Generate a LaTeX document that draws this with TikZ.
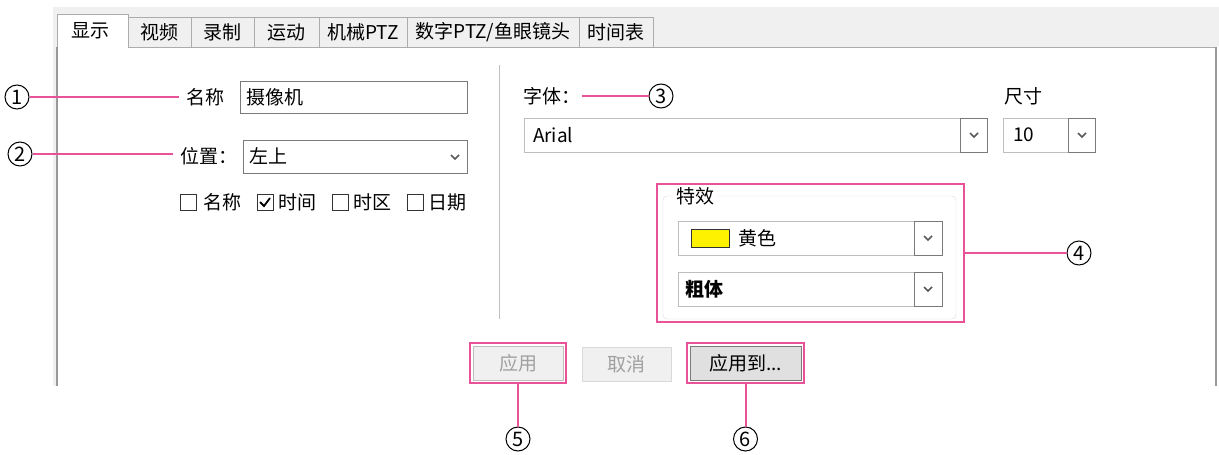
\documentclass[tikz,border=0pt]{standalone}
\usepackage{fontspec}
\setmainfont{Noto Sans CJK SC}
\definecolor{callout}{RGB}{233,82,152}
\definecolor{band}{RGB}{240,240,240}
\definecolor{tabline}{RGB}{172,172,172}
\definecolor{boxline}{RGB}{122,122,122}
\definecolor{softline}{RGB}{190,190,190}
\definecolor{greytext}{RGB}{160,160,160}
\newcommand{\chev}[1]{\draw[line width=1.6pt, color=black!65] ([shift={(-4,-2)}]#1) -- ([shift={(0,2)}]#1) -- ([shift={(4,-2)}]#1);}

\begin{document}
\begin{tikzpicture}[x=1pt,y=-1pt]
  \tikzstyle{lbl}=[font=\fontsize{19}{21}\selectfont, inner sep=0pt]
  \tikzstyle{tab}=[draw=tabline, fill=band, minimum height=30, inner sep=0pt, font=\fontsize{19}{21}\selectfont]
  \tikzstyle{field}=[draw=boxline, fill=white, inner sep=0pt]
  \tikzstyle{combo}=[draw=softline, fill=white, minimum height=34, inner sep=0pt]
  \tikzstyle{dropbtn}=[draw=boxline, fill=white, minimum height=34, minimum width=27, inner sep=0pt]
  \tikzstyle{chk}=[draw=black!80, minimum size=16, inner sep=0pt]
  \tikzstyle{btn}=[draw=softline, fill=band, minimum height=34, inner sep=0pt, font=\fontsize{19}{21}\selectfont]
  \tikzstyle{hilite}=[draw=callout, line width=2.5pt, inner sep=0pt]
  \tikzstyle{callline}=[callout, line width=2pt]
  \tikzstyle{num}=[circle, draw, line width=1pt, minimum size=24, inner sep=0pt, font=\fontsize{20}{21}\selectfont]
  \useasboundingbox (0,0) rectangle (1219,455);

  % tab bar
  \fill[band] (53,7) rectangle (1219,47);
  \fill[band] (53,47) rectangle (57,386);
  \fill[white] (57,47) rectangle (1216,386);
  \node[tab, minimum width=63] (T2) at (159.5,32) {视频};
  \node[tab, minimum width=63] (T3) at (222.5,32) {录制};
  \node[tab, minimum width=65] (T4) at (286.5,32) {运动};
  \node[tab, minimum width=88] (T5) at (363,32) {机械PTZ};
  \node[tab, minimum width=172] (T6) at (493,32) {数字PTZ/鱼眼镜头};
  \node[tab, minimum width=74] (T7) at (616,32) {时间表};
  \draw[tabline, fill=white] (57,47) -- (57,14) -- (128,14) -- (128,47);
  \node[lbl] (T1) at (90,31) {显示};
  \draw[color=black!40, line width=1.2pt] (57,386) -- (57,47);
  \draw[tabline] (128,47) -- (1216,47);
  \draw[color=black!40, line width=1.2pt] (1216,47) -- (1216,386);
  \draw[color=black!25] (499,65) -- (499,319);

  % left part
  \node[field, minimum width=227, minimum height=32] (NameBox) at (353.5,97) {};
  \node[lbl, anchor=west] (NameVal) at ([xshift=6]NameBox.west) {摄像机};
  \node[lbl, anchor=east] (NameLbl) at ([xshift=-15]NameBox.west) {名称};
  \node[field, minimum width=224, minimum height=33] (PosBox) at (355,156.5) {};
  \node[lbl, anchor=west] (PosVal) at ([xshift=6]PosBox.west) {左上};
  \chev{455,157}
  \node[lbl, anchor=west] (PosLbl) at (180,156) {位置：};
  \node[chk] (K1) at (188,202) {};
  \node[lbl, anchor=west] (L1) at ([xshift=7]K1.east) {名称};
  \node[chk] (K2) at (265,202) {};
  \draw[line width=1.8pt] ([shift={(-5,0)}]K2.center) -- ([shift={(-1,4)}]K2.center) -- ([shift={(5,-4)}]K2.center);
  \node[lbl, anchor=west] (L2) at ([xshift=5]K2.east) {时间};
  \node[chk] (K3) at (340,202) {};
  \node[lbl, anchor=west] (L3) at ([xshift=5]K3.east) {时区};
  \node[chk] (K4) at (415,202) {};
  \node[lbl, anchor=west] (L4) at ([xshift=5]K4.east) {日期};

  % right part
  \node[lbl, anchor=west] (FontLbl) at (523,96) {字体：};
  \node[lbl, anchor=west] (SizeLbl) at (1004,96) {尺寸};
  \node[combo, minimum width=463] (FontBox) at (755.5,135) {};
  \node[lbl, anchor=west] (FontVal) at ([xshift=9]FontBox.west) {Arial};
  \node[dropbtn] (FontBtn) at (974,135) {};
  \chev{FontBtn.center}
  \node[combo, minimum width=92] (SizeBox) at (1049,135) {};
  \node[lbl, anchor=west] (SizeVal) at ([xshift=10]SizeBox.west) {10};
  \node[dropbtn] (SizeBtn) at (1082,135) {};
  \chev{SizeBtn.center}

  % effects group
  \draw[color=black!14, rounded corners=4pt] (663,196) rectangle (956,319);
  \node[lbl, fill=white, inner xsep=3pt] (FxLbl) at (695,196) {特效};
  \node[combo, minimum width=264] (ColBox) at (810,238) {};
  \node[draw=black!80, fill=yellow, minimum width=38, minimum height=18, inner sep=0pt] (Swatch) at (710,238) {};
  \node[lbl, anchor=west] (ColVal) at ([xshift=9]Swatch.east) {黄色};
  \node[dropbtn, minimum width=28] (ColBtn) at (928,238) {};
  \chev{ColBtn.center}
  \node[combo, minimum width=264] (StyBox) at (810,289) {};
  \node[lbl, anchor=west, font=\fontsize{19}{21}\selectfont\bfseries] (StyVal) at ([xshift=7]StyBox.west) {粗体};
  \node[dropbtn, minimum width=28] (StyBtn) at (928,289) {};
  \chev{StyBtn.center}
  \node[hilite, minimum width=307, minimum height=138] (M4) at (810.5,253) {};

  % buttons
  \node[btn, minimum width=90, text=greytext] (Apply) at (518,363) {应用};
  \node[btn, minimum width=89, draw=black!15, text=greytext] (Cancel) at (626.5,364) {取消};
  \node[btn, minimum width=111, draw=boxline, fill=black!12] (ApplyTo) at (745.5,363) {应用到...};
  \node[hilite, minimum width=96, minimum height=40] (M5) at (518,363) {};
  \node[hilite, minimum width=117, minimum height=40] (M6) at (745.5,363) {};

  % callouts
  \node[num] (C1) at (17,97) {1};
  \node[num] (C2) at (20,154) {2};
  \node[num] (C3) at (661,96) {3};
  \node[num] (C4) at (1079,253) {4};
  \node[num] (C5) at (518,439) {5};
  \node[num] (C6) at (745.5,439) {6};
  \draw[callline] (C1) -- ([xshift=-7]NameLbl.west);
  \draw[callline] (C2) -- (173,154);
  \draw[callline] ([xshift=2]FontLbl.east) -- (C3);
  \draw[callline] (M4) -- (C4);
  \draw[callline] (M5) -- (C5);
  \draw[callline] (M6) -- (C6);
\end{tikzpicture}
\end{document}
